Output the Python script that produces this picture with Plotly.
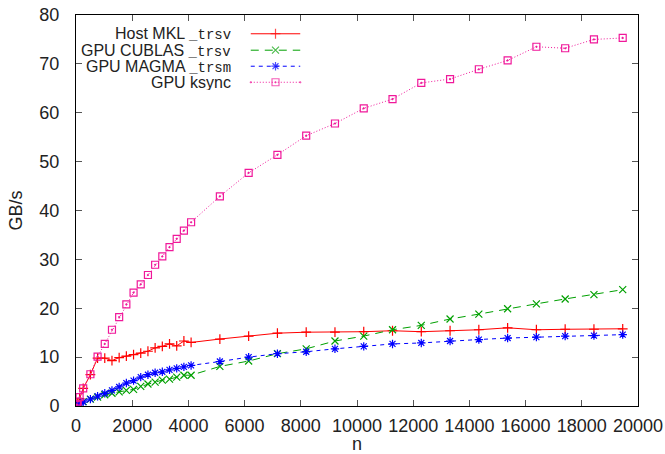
import plotly.graph_objects as go

# ---- data ----
n_small = [32, 64, 128, 256, 512, 768, 1024, 1280, 1536, 1792, 2048, 2304, 2560,
           2816, 3072, 3328, 3584, 3840, 4096]
n_large = [5120, 6144, 7168, 8192, 9216, 10240, 11264, 12288, 13312, 14336,
           15360, 16384, 17408, 18432, 19456]
n_vals = n_small + n_large

host_mkl = [0.3, 0.7, 1.5, 3.6, 6.4, 9.8, 9.8, 9.3, 9.9, 10.2, 10.5, 10.8, 11.2,
            11.9, 12.2, 12.7, 12.3, 13.3, 13.0,
            13.7, 14.3, 14.9, 15.1, 15.1, 15.2, 15.4, 15.2, 15.4, 15.6, 16.0, 15.6, 15.7, 15.7, 15.8]
gpu_cublas = [0.1, 0.2, 0.5, 0.9, 1.4, 1.8, 2.3, 2.6, 2.9, 3.2, 3.4, 4.0, 4.5,
              4.9, 5.3, 5.5, 5.9, 6.3, 6.3,
              8.1, 9.2, 10.7, 11.7, 13.3, 14.3, 15.6, 16.5, 17.8, 18.8, 19.9, 20.9, 21.9, 22.8, 23.8]
gpu_magma = [0.1, 0.2, 0.4, 0.8, 1.4, 2.0, 2.6, 3.2, 3.9, 4.7, 5.2, 5.9, 6.4,
             6.8, 7.0, 7.4, 7.7, 8.0, 8.3,
             9.1, 10.0, 10.7, 11.1, 11.7, 12.2, 12.7, 12.9, 13.3, 13.6, 13.9, 14.1, 14.3, 14.4, 14.6]
gpu_ksync = [0.3, 0.9, 1.8, 3.6, 6.5, 10.1, 12.7, 15.6, 18.2, 20.8, 23.2, 24.9, 26.8,
             28.9, 30.6, 32.5, 34.2, 35.9, 37.6,
             42.9, 47.7, 51.4, 55.3, 57.8, 60.9, 62.8, 66.1, 66.9, 68.9, 70.7, 73.5, 73.2, 75.0, 75.3]

x_ticks = list(range(0, 20001, 2000))
y_ticks = list(range(0, 81, 10))

MONO = "font-family:Liberation Mono;font-size:14px"
series = [
    ("Host MKL <span style=\"%s\">_trsv</span>" % MONO, host_mkl, "#ff0000", "solid", "cross-thin"),
    ("GPU CUBLAS <span style=\"%s\">_trsv</span>" % MONO, gpu_cublas, "#00a000", "8px,6px", "x-thin"),
    ("GPU MAGMA <span style=\"%s\">_trsm</span>" % MONO, gpu_magma, "#0000ff", "4px,4px", "asterisk"),
    ("GPU ksync", gpu_ksync, "#f0189a", "1px,2px", "square-open-dot"),
]

FONT = "Liberation Sans"
TXT = "#222222"
fig = go.Figure()

for name, vals, color, dash, sym in series:
    fig.add_trace(go.Scatter(
        x=n_vals, y=vals, mode="lines+markers", name=name, showlegend=False,
        line=dict(color=color, width=1, dash=dash),
        marker=dict(symbol=sym, size=7, color=color, line=dict(color=color, width=1.2)),
    ))

# gnuplot-style key: text right-aligned, line sample with one marker on the right
key_rows = [0.952, 0.910, 0.869, 0.828]
for (name, vals, color, dash, sym), ky in zip(series, key_rows):
    fig.add_trace(go.Scatter(
        x=[0.311, 0.355, 0.399], y=[ky, ky, ky], xaxis="x2", yaxis="y2",
        mode="lines+markers", showlegend=False, hoverinfo="skip",
        line=dict(color=color, width=1, dash=dash),
        marker=dict(symbol=sym, size=[0, 7, 0], color=color, line=dict(color=color, width=1.2)),
    ))
    fig.add_annotation(x=0.279, y=ky, xref="x2", yref="y2", text=name, showarrow=False,
                       xanchor="right", yanchor="middle", height=15,
                       font=dict(family=FONT, size=16, color=TXT))

axis_common = dict(showgrid=False, zeroline=False, showline=True, linecolor="black",
                   linewidth=1, mirror="allticks", ticks="inside", ticklen=6,
                   tickcolor="#555555", tickwidth=1, automargin=False,
                   tickfont=dict(family=FONT, size=18, color=TXT))

fig.update_layout(
    width=665, height=454,
    margin=dict(l=76, r=27, t=15, b=48),
    paper_bgcolor="white", plot_bgcolor="white",
    xaxis=dict(range=[0, 20000], tickvals=x_ticks, ticktext=[str(v) for v in x_ticks],
               title=dict(text="n", font=dict(family=FONT, size=18, color=TXT), standoff=2),
               ticklabelstandoff=3, **axis_common),
    yaxis=dict(range=[0, 80], tickvals=y_ticks, ticktext=[str(v) for v in y_ticks],
               title=dict(text="GB/s", font=dict(family=FONT, size=18, color=TXT), standoff=12),
               ticklabelstandoff=12, **axis_common),
    xaxis2=dict(range=[0, 1], overlaying="x", visible=False, fixedrange=True),
    yaxis2=dict(range=[0, 1], overlaying="y", visible=False, fixedrange=True),
)

# remove the default page margin so the figure fills the window exactly
fig.write_html("out.html", config={"displayModeBar": False},
               post_script="document.body.style.margin='0';document.body.style.overflow='hidden';")
